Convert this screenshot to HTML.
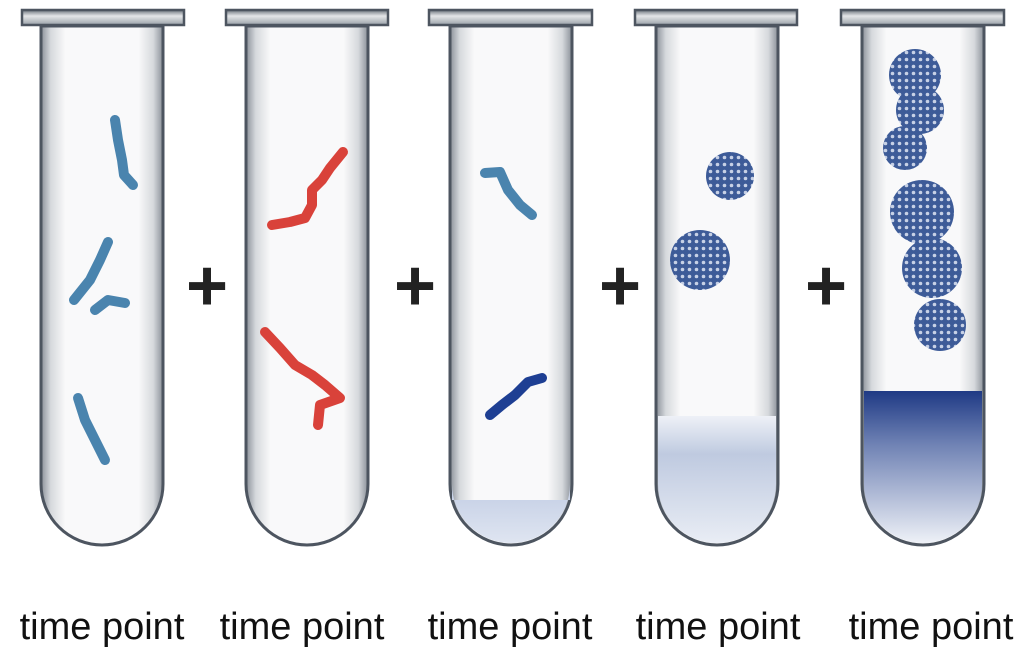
<!DOCTYPE html>
<html><head><meta charset="utf-8"><style>
html,body{margin:0;padding:0;background:#fff;width:1024px;height:648px;overflow:hidden}
text{font-family:"Liberation Sans",sans-serif}
</style></head><body>
<svg width="1024" height="648" viewBox="0 0 1024 648">
<defs>
<linearGradient id="glass" x1="0" x2="1" y1="0" y2="0">
<stop offset="0" stop-color="#8a9098"/><stop offset="0.08" stop-color="#d6d9dd"/><stop offset="0.2" stop-color="#f9f9fa"/><stop offset="0.8" stop-color="#f9f9fa"/><stop offset="0.92" stop-color="#d6d9dd"/><stop offset="1" stop-color="#8a9098"/>
</linearGradient>
<linearGradient id="rim" x1="0" x2="0" y1="0" y2="1"><stop offset="0" stop-color="#6b737c"/><stop offset="0.4" stop-color="#e4e6e8"/><stop offset="1" stop-color="#9aa1a8"/></linearGradient>
<linearGradient id="sed3" x1="0" x2="0" y1="0" y2="1"><stop offset="0" stop-color="#c2cde4"/><stop offset="1" stop-color="#dfe5f1"/></linearGradient>
<linearGradient id="sed4" x1="0" x2="0" y1="0" y2="1"><stop offset="0" stop-color="#eef1f7"/><stop offset="0.3" stop-color="#bfcae0"/><stop offset="1" stop-color="#e9edf5"/></linearGradient>
<linearGradient id="sed5" x1="0" x2="0" y1="0" y2="1"><stop offset="0" stop-color="#1f3a85"/><stop offset="0.35" stop-color="#6f82b4"/><stop offset="1" stop-color="#eef1f7"/></linearGradient>
<pattern id="dots" width="7" height="7" patternUnits="userSpaceOnUse">
<rect width="7" height="7" fill="#3d5b98"/><circle cx="3.5" cy="3.5" r="1.8" fill="#c7d1e6"/>
</pattern>
<g id="tube">
<path d="M-61,0 L-61,458 A61,61 0 0 0 61,458 L61,0 Z" fill="url(#glass)" stroke="#4d5560" stroke-width="3"/>
</g>
</defs>

<g transform="translate(102,26)"><use href="#tube"/></g>
<g transform="translate(307,26)"><use href="#tube"/></g>
<g transform="translate(511,26)">
<use href="#tube"/>
<path d="M-59,474 L-59,458 A59,59 0 0 0 59,458 L59,474 Z" fill="url(#sed3)"/>
</g>
<g transform="translate(717,26)">
<use href="#tube"/>
<path d="M-59,390 L-59,458 A59,59 0 0 0 59,458 L59,390 Z" fill="url(#sed4)"/>
</g>
<g transform="translate(923,26)">
<use href="#tube"/>
<path d="M-59,365 L-59,458 A59,59 0 0 0 59,458 L59,365 Z" fill="url(#sed5)"/>
</g>

<g stroke="#4d5560" stroke-width="2.5" fill="url(#rim)">
<rect x="22" y="10" width="162" height="15"/>
<rect x="226" y="10" width="162" height="15"/>
<rect x="429" y="10" width="163" height="15"/>
<rect x="635" y="10" width="162" height="15"/>
<rect x="841" y="10" width="163" height="15"/>
</g>

<g fill="none" stroke-linecap="round" stroke-linejoin="round" stroke-width="10">
<polyline stroke="#4a84ae" points="115,120 118,140 122,160 124,175 133,185"/>
<polyline stroke="#4a84ae" points="108,242 100,260 90,280 74,300"/>
<polyline stroke="#4a84ae" points="95,310 108,300 125,303"/>
<polyline stroke="#4a84ae" points="78,398 85,420 95,440 105,460"/>
<polyline stroke="#d9423a" points="343,152 330,168 322,180 312,190 312,205 305,218 290,222 272,225"/>
<polyline stroke="#d9423a" points="265,332 280,348 295,365 312,375 325,385 340,398 320,405 318,425"/>
<polyline stroke="#4a84ae" points="485,173 500,172 508,190 520,205 532,215"/>
<polyline stroke="#1e3f93" points="490,415 502,405 515,395 528,382 542,378"/>
</g>

<g fill="url(#dots)"><circle cx="730" cy="176" r="24"/></g>
<g fill="url(#dots)"><circle cx="700" cy="260" r="30"/></g>
<g fill="url(#dots)">
<circle cx="915" cy="75" r="26"/><circle cx="920" cy="110" r="24"/><circle cx="905" cy="148" r="22"/>
<circle cx="922" cy="212" r="32"/><circle cx="932" cy="268" r="30"/><circle cx="940" cy="325" r="26"/>
</g>

<g font-size="72" font-weight="bold" fill="#222" text-anchor="middle">
<text x="207" y="310">+</text><text x="415" y="310">+</text><text x="620" y="310">+</text><text x="826" y="310">+</text>
</g>

<g font-size="38" fill="#111" text-anchor="middle">
<text x="102" y="639">time point</text>
<text x="302" y="639">time point</text>
<text x="510" y="639">time point</text>
<text x="718" y="639">time point</text>
<text x="931" y="639">time point</text>
</g>
</svg>
</body></html>
